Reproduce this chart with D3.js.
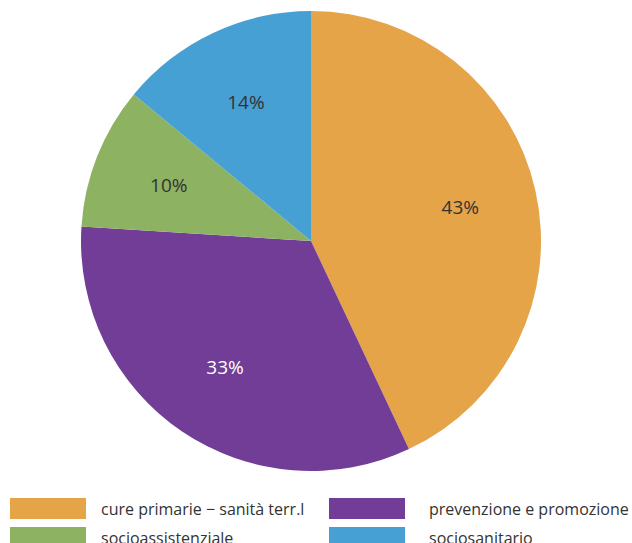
<!DOCTYPE html>
<html><head><meta charset="utf-8">
<script src="https://cdn.jsdelivr.net/npm/d3@7"></script>
<style>body{margin:0;background:#fff}svg{display:block}text{font-family:"Open Sans",sans-serif}</style>
</head><body>
<svg id="c" width="632" height="543"></svg>
<script>
const categories = ["cure primarie − sanità terr.l", "prevenzione e promozione", "socioassistenziale", "sociosanitario"];
const values = [43, 33, 10, 14];
const colors = ["#E5A448", "#713D97", "#8DB262", "#46A0D3"];
const labelColors = ["#333333", "#ffffff", "#333333", "#333333"];

const svg = d3.select("#c");
const cx = 311, cy = 241, R = 230;
const pie = d3.pie().sort(null).value(d => d.v);
const data = categories.map((c, i) => ({c, v: values[i], col: colors[i], lc: labelColors[i]}));
const arcs = pie(data);
const arc = d3.arc().innerRadius(0).outerRadius(R);
const labelArc = d3.arc().innerRadius(R * 0.665).outerRadius(R * 0.665);
const g = svg.append("g").attr("transform", `translate(${cx},${cy})`);
g.selectAll("path").data(arcs).join("path").attr("d", arc).attr("fill", d => d.data.col);
g.selectAll("text").data(arcs).join("text")
  .attr("transform", d => `translate(${labelArc.centroid(d)})`)
  .attr("text-anchor", "middle").attr("dy", "0.36em")
  .attr("font-size", 19).attr("fill", d => d.data.lc)
  .text(d => d.data.v + "%");

// legend: 2 columns
const legendOrder = [0, 1, 2, 3];
const lg = svg.append("g");
legendOrder.forEach((idx, k) => {
  const col = k % 2, row = Math.floor(k / 2);
  const x = col === 0 ? 10 : 329;
  const y = 498 + row * 29;
  lg.append("rect").attr("x", x).attr("y", y).attr("width", 76).attr("height", 21).attr("fill", colors[idx]);
  lg.append("text").attr("x", x + (col === 0 ? 91 : 100)).attr("y", y + 11.5).attr("dy", "0.35em")
    .attr("font-size", 16).attr("fill", "#333333").text(categories[idx]);
});
</script>
</body></html>
